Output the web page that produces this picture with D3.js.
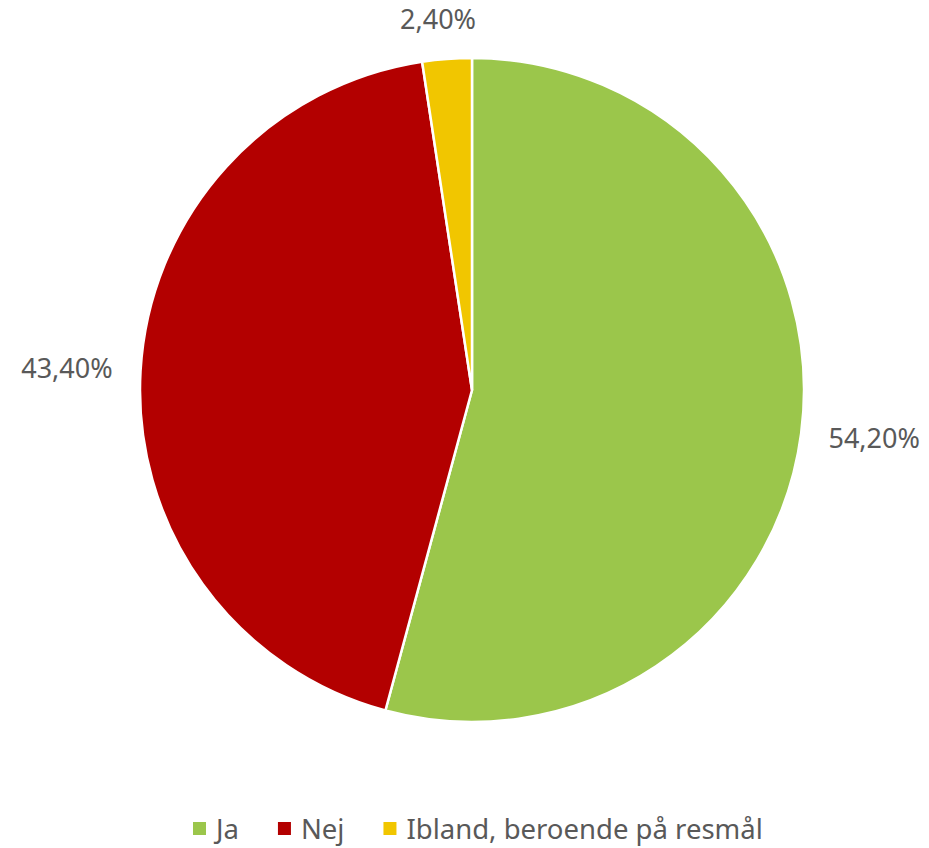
<!DOCTYPE html>
<html>
<head>
<meta charset="utf-8">
<script src="https://cdn.jsdelivr.net/npm/d3@7"></script>
<style>
  body { margin: 0; background: #fff; }
  text { font-family: "Noto Sans", "Liberation Sans", sans-serif; fill: #595959; }
</style>
</head>
<body>
<div id="chart"></div>
<script>
// chart data
const categories = ["Ja", "Nej", "Ibland, beroende på resmål"];
const values = [54.2, 43.4, 2.4];
const labels = ["54,20%", "43,40%", "2,40%"];
const colors = ["#9BC64B", "#B30000", "#F1C600"];

const width = 929, height = 848;
const cx = 472, cy = 390, radius = 332;
const labelGap = 28;

let svg = d3.select("#chart")
    .append("svg")
    .attr("width", width)
    .attr("height", height);

let pie = d3.pie().sort(null).value(function(d) { return d; });
let arcs = pie(values);

let arc = d3.arc().innerRadius(0).outerRadius(radius);
let labelArc = d3.arc().innerRadius(radius + labelGap).outerRadius(radius + labelGap);

let g = svg.append("g").attr("transform", `translate(${cx}, ${cy})`);

g.selectAll("path")
    .data(arcs)
    .join("path")
    .attr("d", arc)
    .attr("fill", function(d, i) { return colors[i]; })
    .attr("stroke", "#fff")
    .attr("stroke-width", 2.5)
    .attr("stroke-linejoin", "round");

// data labels sit just outside the edge, box pushed outward
let lbl = g.selectAll("text.lbl")
    .data(arcs)
    .join("text")
    .attr("class", "lbl")
    .style("font-size", "27px")
    .attr("text-anchor", "middle")
    .text(function(d, i) { return labels[i]; });

lbl.each(function(d) {
    let bb = this.getBBox();
    let p = labelArc.centroid(d);
    let a = (d.startAngle + d.endAngle) / 2;
    let dx = Math.sin(a), dy = -Math.cos(a);
    let x = p[0] + dx * bb.width / 2 - (dy < -0.9 ? 4 : 0);
    let y = p[1] + dy * 12 + 9.5;
    d3.select(this).attr("x", x).attr("y", y);
});

// legend
let legend = svg.append("g");
let lx = 193;
categories.forEach(function(c, i) {
    legend.append("rect")
        .attr("x", lx).attr("y", 822)
        .attr("width", 13).attr("height", 13)
        .attr("fill", colors[i]);
    let t = legend.append("text")
        .attr("x", lx + 23).attr("y", 839)
        .style("font-size", "27.5px")
        .text(c);
    lx = lx + 23 + t.node().getComputedTextLength() + 39;
});
</script>
</body>
</html>
